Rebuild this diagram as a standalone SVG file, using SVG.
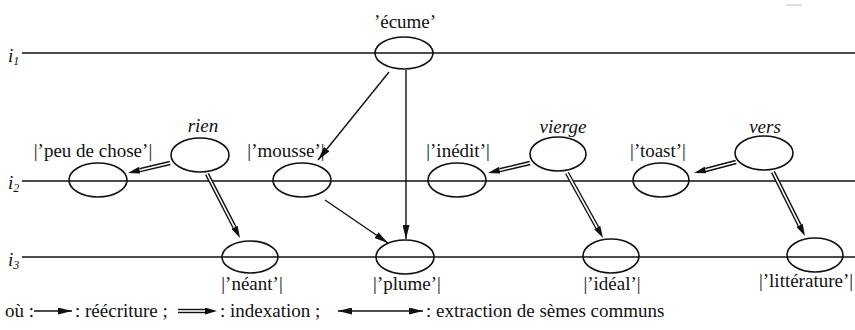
<svg xmlns="http://www.w3.org/2000/svg" width="855" height="330" viewBox="0 0 855 330" font-family="'Liberation Serif', 'DejaVu Serif', serif">
<style>
text{font-family:'Liberation Serif','DejaVu Serif',serif;font-size:19px;fill:#111}
.it{font-style:italic}
.ax{stroke:#111;stroke-width:1.6;fill:none}
.el{stroke:#111;stroke-width:1.6;fill:none}
.ln{stroke:#111;stroke-width:1.4;fill:none}
.dbl{stroke:#111;stroke-width:4.4;fill:none}
.dbw{stroke:#fff;stroke-width:1.6;fill:none}
</style>
<defs>
<marker id="h" viewBox="0 0 14 7" refX="14" refY="3.5" markerWidth="14" markerHeight="7" markerUnits="userSpaceOnUse" orient="auto-start-reverse"><path d="M0,0 L14,3.5 L0,7 z" fill="#111"/></marker>
<marker id="hd" viewBox="0 0 12 7" refX="0" refY="3.5" markerWidth="12" markerHeight="7" markerUnits="userSpaceOnUse" orient="auto"><path d="M0,0 L12,3.5 L0,7 z" fill="#111"/></marker>
</defs>
<rect width="855" height="330" fill="#fff"/>
<line x1="786" y1="5" x2="802" y2="5" stroke="#bbb" stroke-width="1"/>
<g id="axes">
<line class="ax" x1="22" y1="53" x2="855" y2="53"/>
<line class="ax" x1="22" y1="181" x2="855" y2="181"/>
<line class="ax" x1="22" y1="257" x2="855" y2="257"/>
<text class="it" x="8" y="62">i<tspan font-size="12" dy="3">1</tspan></text>
<text class="it" x="8" y="189">i<tspan font-size="12" dy="3">2</tspan></text>
<text class="it" x="8" y="266">i<tspan font-size="12" dy="3">3</tspan></text>
</g>
<g id="n-ecume"><ellipse class="el" cx="404" cy="53" rx="29" ry="16"/><text x="405" y="28" text-anchor="middle">’écume’</text></g>
<g id="n-rien"><ellipse class="el" cx="200" cy="155" rx="29" ry="17"/><text class="it" x="203" y="132" text-anchor="middle">rien</text></g>
<g id="n-peu"><ellipse class="el" cx="98" cy="180" rx="29" ry="17"/><text x="93" y="157" text-anchor="middle">|’peu de chose’|</text></g>
<g id="n-mousse"><ellipse class="el" cx="302" cy="180" rx="29" ry="17"/><text x="286" y="157" text-anchor="middle">|’mousse’|</text></g>
<g id="n-neant"><ellipse class="el" cx="250" cy="257" rx="28" ry="16"/><text x="252" y="290" text-anchor="middle">|’néant’|</text></g>
<g id="n-plume"><ellipse class="el" cx="405" cy="257" rx="29" ry="17"/><text x="407" y="290" text-anchor="middle">|’plume’|</text></g>
<g id="n-inedit"><ellipse class="el" cx="457" cy="180" rx="29" ry="17"/><text x="458" y="157" text-anchor="middle">|’inédit’|</text></g>
<g id="n-vierge"><ellipse class="el" cx="558" cy="154" rx="28" ry="17"/><text class="it" x="563" y="133" text-anchor="middle">vierge</text></g>
<g id="n-ideal"><ellipse class="el" cx="611" cy="256" rx="28" ry="17"/><text x="612" y="290" text-anchor="middle">|’idéal’|</text></g>
<g id="n-toast"><ellipse class="el" cx="661" cy="180" rx="28" ry="17"/><text x="658" y="157" text-anchor="middle">|’toast’|</text></g>
<g id="n-vers"><ellipse class="el" cx="764" cy="153" rx="29" ry="17"/><text class="it" x="765" y="133" text-anchor="middle">vers</text></g>
<g id="n-litterature"><ellipse class="el" cx="815" cy="255" rx="28" ry="17"/><text x="806" y="287" text-anchor="middle">|’littérature’|</text></g>
<g id="connectors">
<line class="ln" x1="389" y1="72" x2="318" y2="160" marker-end="url(#h)"/>
<line class="ln" x1="406" y1="70" x2="406" y2="239" marker-end="url(#h)"/>
<line class="ln" x1="325" y1="200" x2="388" y2="243" marker-end="url(#h)"/>
<path class="dbl" d="M170,163 L139.7,170.2" marker-end="url(#hd)"/><path class="dbw" d="M170,163 L139.7,170.2"/>
<path class="dbl" d="M207,174 L234.5,227.3" marker-end="url(#hd)"/><path class="dbw" d="M207,174 L234.5,227.3"/>
<path class="dbl" d="M530,163 L499.7,170.2" marker-end="url(#hd)"/><path class="dbw" d="M530,163 L499.7,170.2"/>
<path class="dbl" d="M567,173 L597.2,227.5" marker-end="url(#hd)"/><path class="dbw" d="M567,173 L597.2,227.5"/>
<path class="dbl" d="M736,162 L705.6,170" marker-end="url(#hd)"/><path class="dbw" d="M736,162 L705.6,170"/>
<path class="dbl" d="M773,172 L799.6,225.3" marker-end="url(#hd)"/><path class="dbw" d="M773,172 L799.6,225.3"/>
</g>
<g id="legend">
<text x="5" y="317">où :</text>
<line class="ln" x1="34" y1="311" x2="72" y2="311" marker-end="url(#h)"/>
<text x="75" y="317">: réécriture ;</text>
<path class="dbl" d="M178,311 L205,311" marker-end="url(#hd)"/><path class="dbw" d="M178,311 L205,311"/>
<text x="220" y="317">: indexation ;</text>
<line class="ln" x1="338" y1="311" x2="423" y2="311" marker-start="url(#h)" marker-end="url(#h)"/>
<text x="426" y="317">: extraction de sèmes communs</text>
</g>
</svg>
